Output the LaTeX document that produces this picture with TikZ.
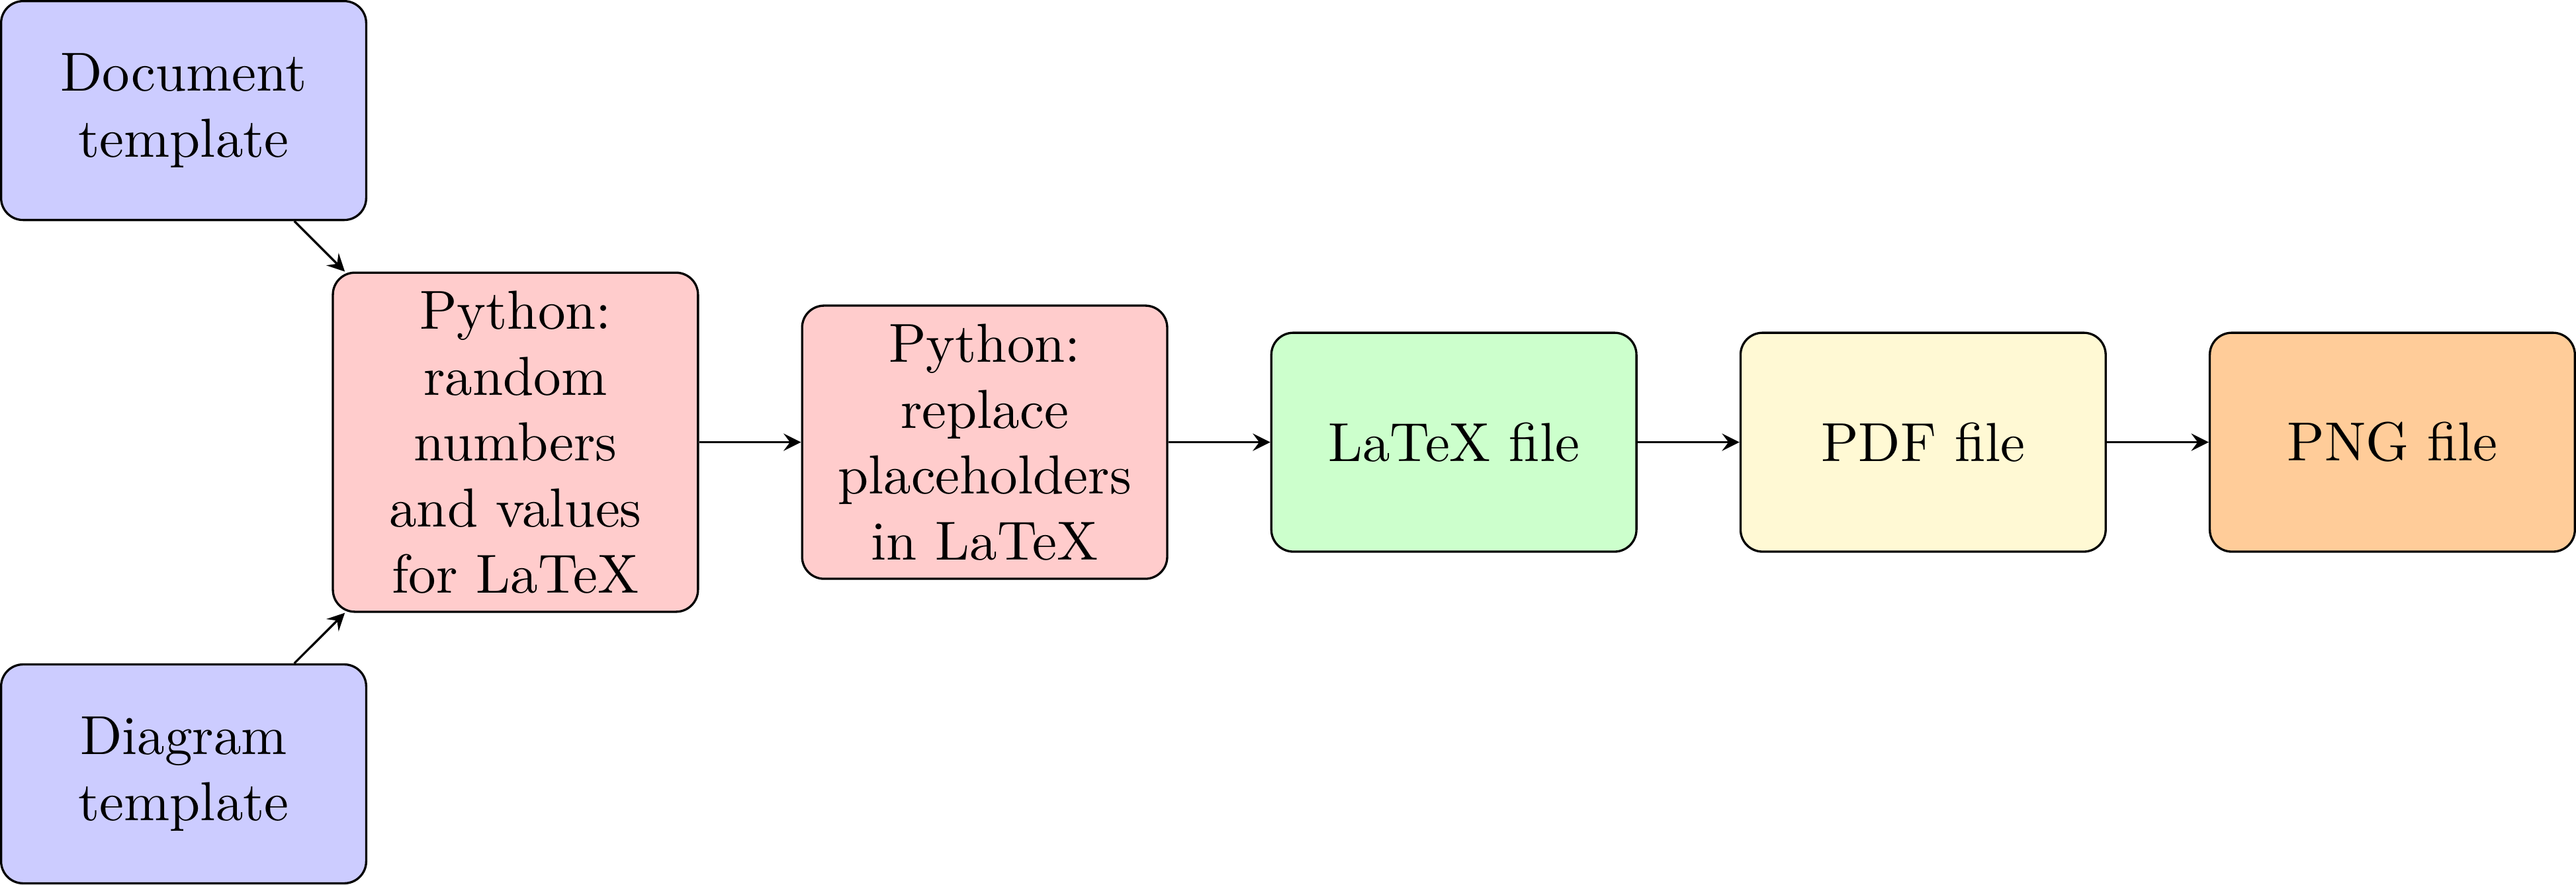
\documentclass[tikz,border=0pt]{standalone}
\usetikzlibrary{positioning}

\definecolor{tplfill}{HTML}{CCCCFF}
\definecolor{pyfill}{HTML}{FFCCCC}
\definecolor{texfill}{HTML}{CCFFCC}
\definecolor{pdffill}{HTML}{FFF9D4}
\definecolor{pngfill}{HTML}{FFCC99}

\begin{document}
\begin{tikzpicture}[node distance=3cm, on grid, >=stealth,
	block/.style={draw, rounded corners, text width=2.1cm, align=center, minimum height=1.4cm}]
	\draw
	node[block, fill=pyfill] (rand) {Python:\\ random\\ numbers\\ and values\\ for LaTeX}
	node[block, fill=tplfill, above left=of rand] (doctpl) {Document\\ template}
	node[block, fill=tplfill, below left=of rand] (diatpl) {Diagram\\ template}
	node[block, fill=pyfill, right=of rand] (repl) {Python:\\ replace\\ placeholders\\ in LaTeX}
	node[block, fill=texfill, right=of repl] (texfile) {LaTeX file}
	node[block, fill=pdffill, right=of texfile] (pdffile) {PDF file}
	node[block, fill=pngfill, right=of pdffile] (pngfile) {PNG file};

	\draw[->] (doctpl) -- (rand);
	\draw[->] (diatpl) -- (rand);
	\draw[->] (rand) -- (repl);
	\draw[->] (repl) -- (texfile);
	\draw[->] (texfile) -- (pdffile);
	\draw[->] (pdffile) -- (pngfile);
\end{tikzpicture}
\end{document}
